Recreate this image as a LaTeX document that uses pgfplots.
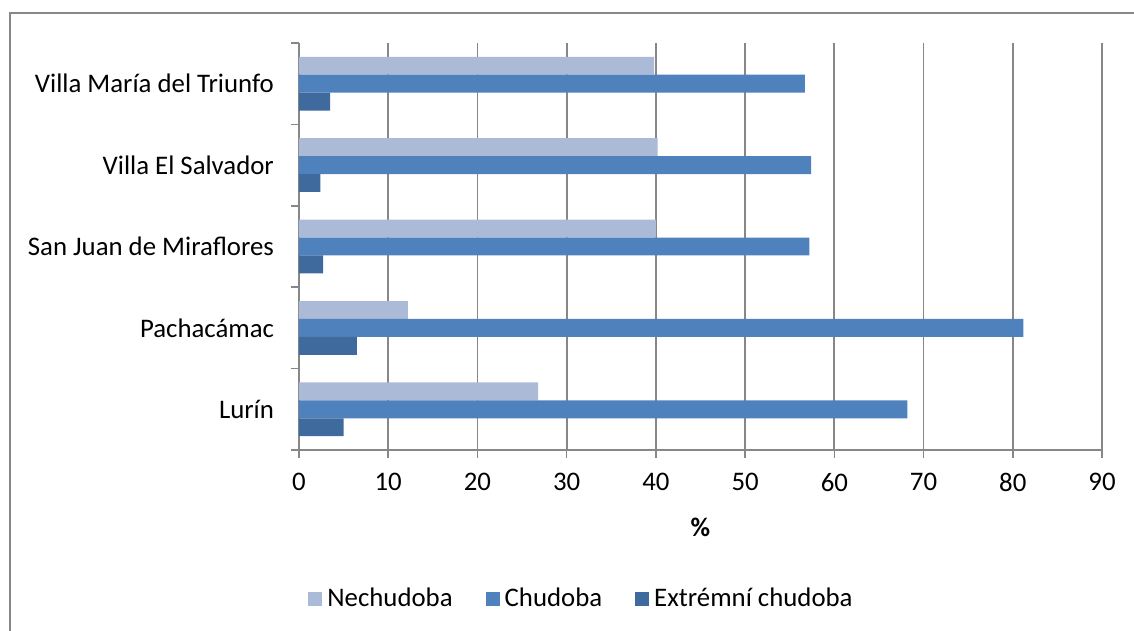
\documentclass[border=0pt]{standalone}
\usepackage{fontspec}
\setmainfont{Carlito}
\usepackage{pgfplots}
\pgfplotsset{compat=1.18}
\definecolor{nech}{HTML}{AABAD7}
\definecolor{chud}{HTML}{4F81BD}
\definecolor{extr}{HTML}{3F6A9D}
\definecolor{gridgray}{HTML}{878787}
\begin{document}
\begin{tikzpicture}
\path[use as bounding box] (0,0) rectangle (567pt,-315.5pt);
% chart frame (right and bottom edges fall outside the picture)
\draw[gridgray, line width=1pt] (5pt,-330pt) -- (5pt,-6.5pt) -- (580pt,-6.5pt);
\begin{axis}[
  at={(149.5pt,-225pt)}, anchor=south west,
  scale only axis, width=401.5pt, height=203.5pt,
  xbar, bar width=0.22,
  xmin=0, xmax=90, ymin=-0.5, ymax=4.5,
  xtick={0,10,...,90},
  ytick={0,1,2,3,4},
  yticklabels={Lurín, Pachacámac, San Juan de Miraflores, Villa El Salvador, Villa María del Triunfo},
  minor ytick={-0.5,0.5,1.5,2.5,3.5,4.5},
  tick align=outside, major tick length=4pt, minor tick length=4pt,
  major y tick style={draw=none},
  minor y tick style={gridgray, line width=0.8pt},
  x tick style={gridgray, line width=0.8pt},
  axis lines*=left,
  axis line style={gridgray, line width=0.8pt},
  xmajorgrids, grid style={gridgray, line width=0.85pt},
  tick label style={font=\fontsize{13.4}{15}\selectfont, text=black},
  yticklabel style={xshift=-5pt},
  xticklabel style={yshift=-4pt},
  /pgf/number format/assume math mode=true,
  xlabel={\textbf{\%}},
  xlabel style={at={(axis description cs:0.5,-0.189)}, anchor=center, font=\fontsize{13.4}{15}\selectfont},
  legend columns=3,
  legend style={draw=none, fill=none, inner sep=0pt, at={(0.0112,-0.366)}, anchor=west,
    font=\fontsize{13.4}{15}\selectfont,
    /tikz/every odd column/.append style={column sep=0.5pt},
    /tikz/every even column/.append style={column sep=14.5pt}},
  legend image code/.code={\fill (0pt,-3.5pt) rectangle (7pt,3.5pt);},
]
\addplot[fill=nech, draw=none, bar shift=0.22] coordinates {(26.8,0) (12.2,1) (40.0,2) (40.2,3) (39.8,4)};
\addplot[fill=chud, draw=none, bar shift=0] coordinates {(68.2,0) (81.2,1) (57.2,2) (57.4,3) (56.7,4)};
\addplot[fill=extr, draw=none, bar shift=-0.22] coordinates {(5.0,0) (6.5,1) (2.7,2) (2.4,3) (3.5,4)};
\legend{Nechudoba, Chudoba, Extrémní chudoba}
\end{axis}
\end{tikzpicture}
\end{document}
